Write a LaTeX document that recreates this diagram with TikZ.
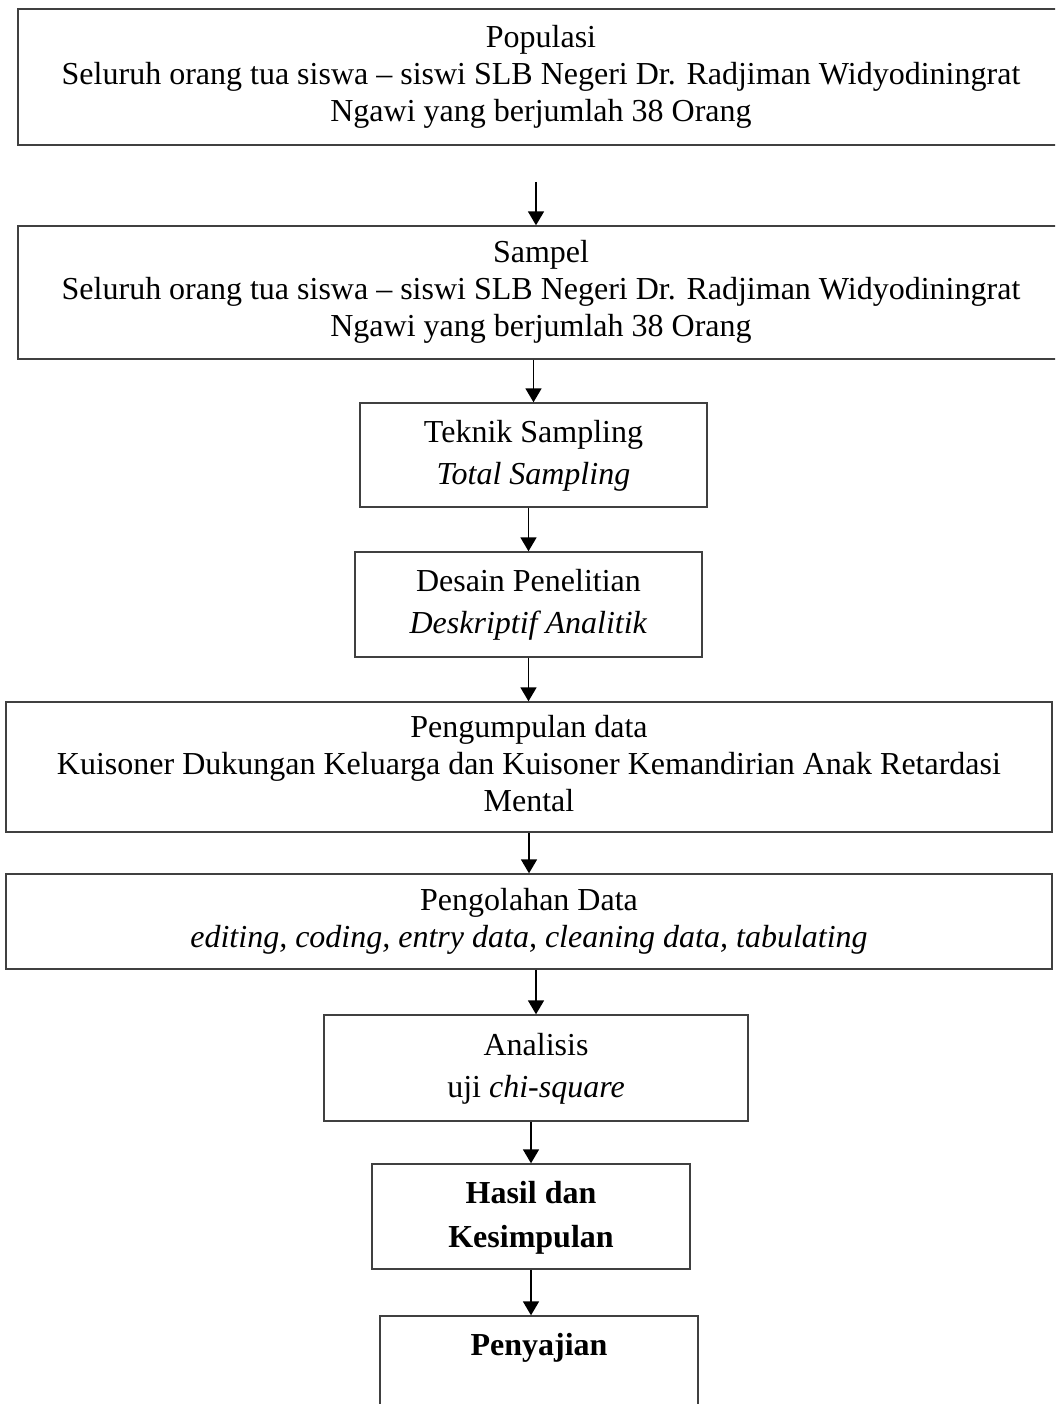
\documentclass[tikz,border=0pt]{standalone}
\usepackage{fontspec}
\setmainfont{Liberation Serif}
\usetikzlibrary{arrows.meta}
\begin{document}
\begin{tikzpicture}[x=1pt,y=-1pt,
  box/.style={draw=black!75,line width=1.4pt,inner sep=0pt,align=center,anchor=center},
  wide/.style={box,font=\fontsize{32}{37}\selectfont},
  small/.style={box,font=\fontsize{32}{42}\selectfont},
  boldbox/.style={box,font=\fontsize{32}{44}\selectfont\bfseries},
  arr/.style={line width=1.8pt,-{Triangle[width=16pt,length=14pt]}}]
\useasboundingbox (0,0) rectangle (1055,1404);
\clip (0,0) rectangle (1055,1404);
\fill[white] (0,0) rectangle (1055,1404);

\node[wide,minimum width=1046pt,minimum height=136pt] (pop) at (541,77)
  {\strut Populasi\\\strut Seluruh orang tua siswa – siswi SLB Negeri Dr. Radjiman Widyodiningrat\\\strut Ngawi yang berjumlah 38 Orang};
\node[wide,minimum width=1046pt,minimum height=133pt] (sam) at (541,292.5)
  {\strut Sampel\\\strut Seluruh orang tua siswa – siswi SLB Negeri Dr. Radjiman Widyodiningrat\\\strut Ngawi yang berjumlah 38 Orang};
\node[small,minimum width=347pt,minimum height=104pt] (tek) at (533.5,455)
  {\strut Teknik Sampling\\\strut\textit{Total Sampling}};
\node[small,minimum width=347pt,minimum height=105pt] (des) at (528.5,604.5)
  {\strut Desain Penelitian\\\strut\textit{Deskriptif Analitik}};
\node[wide,minimum width=1046pt,minimum height=130pt] (pgm) at (529,767)
  {\strut Pengumpulan data\\\strut Kuisoner Dukungan Keluarga dan Kuisoner Kemandirian Anak Retardasi\\\strut Mental};
\node[wide,minimum width=1046pt,minimum height=95pt] (pgl) at (529,921.5)
  {\strut Pengolahan Data\\\strut\textit{editing, coding, entry data, cleaning data, tabulating}};
\node[small,minimum width=424pt,minimum height=106pt] (ana) at (536,1068)
  {\strut Analisis\\\strut uji \textit{chi-square}};
\node[boldbox,minimum width=318pt,minimum height=105pt] (has) at (531,1216.5)
  {\strut Hasil dan\\\strut Kesimpulan};
\node[boldbox,minimum width=318pt,minimum height=105pt] (pen) at (539,1368.5)
  {\strut Penyajian\\\strut};

\coordinate (a1) at (536,182);
\draw[arr] (a1) -- (a1 |- sam.north);
\draw[arr] (sam.south -| tek.north) -- (tek.north);
\draw[arr] (tek.south -| des.north) -- (des.north);
\draw[arr] (des.south) -- (des.south |- pgm.north);
\draw[arr] (pgm.south) -- (pgl.north);
\draw[arr] (pgl.south -| ana.north) -- (ana.north);
\draw[arr] (ana.south -| has.north) -- (has.north);
\draw[arr] (has.south) -- (has.south |- pen.north);
\end{tikzpicture}
\end{document}
